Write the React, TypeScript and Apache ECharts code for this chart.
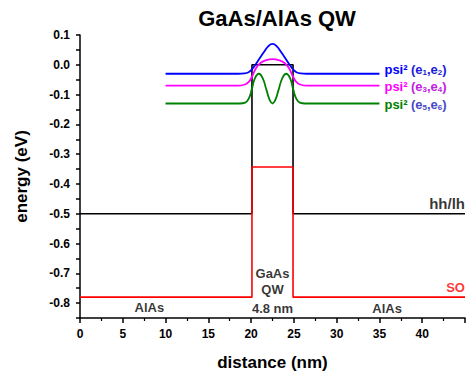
import React, { useEffect, useRef } from "react";
import * as echarts from "echarts";

const chartTitle = "GaAs/AlAs QW";
const xName = "distance (nm)";
const yName = "energy (eV)";

// valence band edges (x nm, energy eV)
const hhLhBand: [number, number][] = [
  [0, -0.5], [20.1, -0.5], [20.1, 0.0], [24.9, 0.0], [24.9, -0.5], [45, -0.5],
];
const soBand: [number, number][] = [
  [0, -0.78], [20.1, -0.78], [20.1, -0.343], [24.9, -0.343], [24.9, -0.78], [45, -0.78],
];

// probability densities
const psi12: [number, number][] = [
  [10, -0.03], [12, -0.03], [14, -0.03], [16, -0.03], [17.5, -0.03], [18.5, -0.03], [19.2, -0.029], [19.7, -0.025],
  [20.1, -0.015], [20.5, 0.0], [21.0, 0.022], [21.5, 0.043], [22.0, 0.062], [22.5, 0.07],
  [23.0, 0.062], [23.5, 0.043], [24.0, 0.022], [24.5, 0.0], [24.9, -0.015], [25.3, -0.025],
  [25.8, -0.029], [26.5, -0.03], [27.5, -0.03], [29, -0.03], [31, -0.03], [33, -0.03], [35, -0.03],
];
const psi34: [number, number][] = [
  [10, -0.07], [12, -0.07], [14, -0.07], [16, -0.07], [17.5, -0.07], [18.5, -0.07], [19.2, -0.067], [19.7, -0.058],
  [20.1, -0.04], [20.6, -0.01], [21.1, 0.006], [21.6, 0.014], [22.5, 0.019], [23.4, 0.014],
  [23.9, 0.006], [24.4, -0.01], [24.9, -0.04], [25.3, -0.058], [25.8, -0.067], [26.5, -0.07],
  [27.5, -0.07], [29, -0.07], [31, -0.07], [33, -0.07], [35, -0.07],
];
const psi56: [number, number][] = [
  [10, -0.13], [12, -0.13], [14, -0.13], [16, -0.13], [17.5, -0.13], [18.7, -0.13], [19.3, -0.127], [19.75, -0.112],
  [20.1, -0.08], [20.45, -0.045], [20.9, -0.03], [21.35, -0.045], [21.8, -0.085], [22.2, -0.12],
  [22.5, -0.13], [22.8, -0.12], [23.2, -0.085], [23.65, -0.045], [24.1, -0.03], [24.55, -0.045],
  [24.9, -0.08], [25.25, -0.112], [25.7, -0.127], [26.3, -0.13], [27.5, -0.13], [29, -0.13], [31, -0.13], [33, -0.13], [35, -0.13],
];

const psiLabels = [
  { sub: ["1", "2"], color: "#0000ff", paren: "#1a1ad8", dy: -4 },
  { sub: ["3", "4"], color: "#ff00ff", paren: "#c020e0", dy: 1 },
  { sub: ["5", "6"], color: "#008000", paren: "#4848c8", dy: 1 },
];

// text annotations: [x, y, text, color, align, vAlign, size]
const annotations: [number, number, string, string, string, string, number][] = [
  [45, -0.5, "hh/lh", "#000000", "right", "bottom", 15],
  [45, -0.78, "SO", "#ff0000", "right", "bottom", 13],
  [8.1, -0.815, "AlAs", "#000000", "center", "middle", 13],
  [35.9, -0.817, "AlAs", "#000000", "center", "middle", 13],
  [22.5, -0.699, "GaAs", "#000000", "center", "middle", 13],
  [22.5, -0.756, "QW", "#000000", "center", "middle", 13],
  [22.5, -0.817, "4.8 nm", "#000000", "center", "middle", 13],
];

const FONT = "'Liberation Sans', Arial, sans-serif";

function psiSeries(data: [number, number][], idx: number) {
  const l = psiLabels[idx];
  return {
    type: "line",
    data,
    showSymbol: false,
    smooth: 0.5,
    lineStyle: { color: l.color, width: 1.8 },
    itemStyle: { color: l.color },
    z: 3 + idx,
    endLabel: {
      show: true,
      distance: 5,
      offset: [0, l.dy],
      formatter: `{a|psi²} {b|(e}{s|${l.sub[0]}}{b|,e}{s|${l.sub[1]}}{b|)}`,
      rich: {
        a: { fontFamily: FONT, fontSize: 13, fontWeight: "bold", color: l.color, lineHeight: 13, verticalAlign: "middle" },
        b: { fontFamily: FONT, fontSize: 13, fontWeight: "bold", color: l.paren, lineHeight: 13, verticalAlign: "middle" },
        s: { fontFamily: FONT, fontSize: 8, fontWeight: "bold", color: l.paren, lineHeight: 8, verticalAlign: "bottom" },
      },
    },
  };
}

export default function App() {
  const ref = useRef<HTMLDivElement>(null);
  useEffect(() => {
    if (!ref.current) return;
    const chart = echarts.init(ref.current, null, { renderer: "svg" });
    chart.setOption({
      animation: false,
      backgroundColor: "#ffffff",
      textStyle: { fontFamily: FONT },
      title: {
        text: chartTitle,
        left: 272,
        top: 2,
        textAlign: "center",
        textStyle: { fontFamily: FONT, fontSize: 22, fontWeight: "bold", color: "#000" },
      },
      grid: { left: 80, right: 10, top: 35, bottom: 62, containLabel: false, outerBoundsMode: "none" },
      xAxis: {
        type: "value",
        min: 0,
        max: 45,
        interval: 5,
        name: xName,
        nameLocation: "middle",
        nameGap: 36,
        nameTextStyle: { fontFamily: FONT, fontSize: 17, fontWeight: "bold", color: "#000" },
        axisLine: { onZero: false, lineStyle: { color: "#000", width: 1.5 } },
        axisTick: { show: true, inside: false, length: 5, lineStyle: { color: "#000", width: 1.5 } },
        minorTick: { show: true, splitNumber: 2, length: 3, lineStyle: { color: "#000", width: 1.2 } },
        splitLine: { show: false },
        axisLabel: {
          showMaxLabel: false,
          margin: 10,
          fontFamily: FONT,
          fontSize: 12,
          fontWeight: "bold",
          color: "#000",
          formatter: (v: number) => (v >= 45 ? "" : String(v)),
        },
      },
      yAxis: {
        type: "value",
        min: -0.85,
        max: 0.1,
        interval: 0.05,
        name: yName,
        nameLocation: "middle",
        nameGap: 50,
        nameTextStyle: { fontFamily: FONT, fontSize: 17, fontWeight: "bold", color: "#000" },
        axisLine: { show: true, onZero: false, lineStyle: { color: "#000", width: 1.5 } },
        axisTick: { show: true, inside: false, length: 4, lineStyle: { color: "#000", width: 1.5 } },
        splitLine: { show: false },
        axisLabel: {
          margin: 10,
          fontFamily: FONT,
          fontSize: 12,
          fontWeight: "bold",
          color: "#000",
          formatter: (v: number) => {
            const k = Math.round(v * 100);
            if (k % 10 !== 0) return "";
            const r = k / 100;
            return r === 0 ? "0.0" : r.toFixed(1);
          },
        },
      },
      series: [
        {
          type: "line",
          data: hhLhBand,
          showSymbol: false,
          lineStyle: { color: "#000", width: 1.6 },
          itemStyle: { color: "#000" },
          z: 2,
        },
        {
          type: "line",
          data: soBand,
          showSymbol: false,
          lineStyle: { color: "#ff0000", width: 1.6 },
          itemStyle: { color: "#ff0000" },
          z: 2,
        },
        psiSeries(psi12, 0),
        psiSeries(psi34, 1),
        psiSeries(psi56, 2),
        {
          type: "scatter",
          symbolSize: 0,
          clip: false,
          silent: true,
          z: 10,
          data: annotations.map((a) => ({
            value: [a[0], a[1]],
            label: {
              show: true,
              position: "inside",
              formatter: a[2],
              align: a[4],
              verticalAlign: a[5],
              offset: a[5] === "bottom" ? [0, -3] : [0, 0],
              fontFamily: FONT,
              fontSize: a[6],
              fontWeight: "bold",
              color: a[3],
            },
          })),
        },
      ],
    });
    return () => chart.dispose();
  }, []);
  return (
    <div
      ref={ref}
      style={{ position: "fixed", left: 0, top: 0, width: 475, height: 380, background: "#fff" }}
    />
  );
}
